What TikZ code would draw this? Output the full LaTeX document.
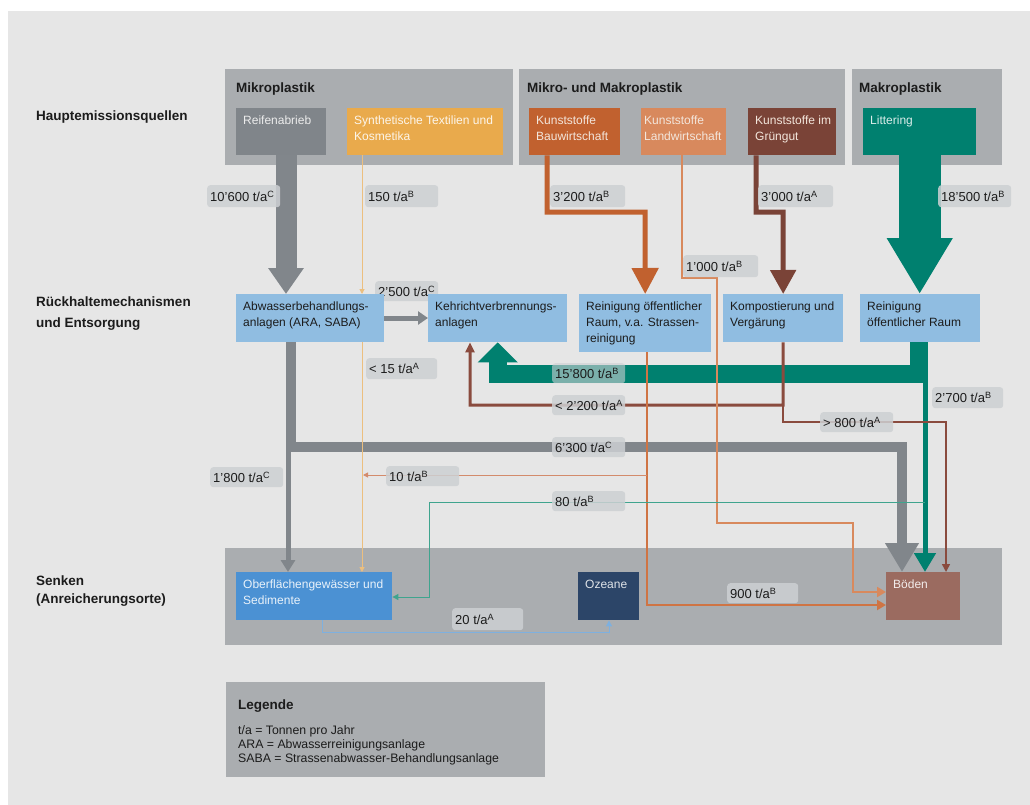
\documentclass[tikz,border=0pt]{standalone}
\usepackage{fontspec}
\setmainfont{Liberation Sans}
\usetikzlibrary{arrows.meta,calc}
\definecolor{bgc}{HTML}{E6E6E6}
\definecolor{bandc}{HTML}{AAADB0}
\definecolor{reifc}{HTML}{80858A}
\definecolor{grayarr}{HTML}{81868B}
\definecolor{sync}{HTML}{E9AA4C}
\definecolor{synl}{HTML}{ECBF7F}
\definecolor{bauc}{HTML}{C1612F}
\definecolor{landc}{HTML}{D8895D}
\definecolor{gruenc}{HTML}{7A4337}
\definecolor{tealc}{HTML}{00806F}
\definecolor{tealthin}{HTML}{3FA48E}
\definecolor{bluebox}{HTML}{90BDE1}
\definecolor{oberc}{HTML}{4B91D3}
\definecolor{ozeanc}{HTML}{2C4568}
\definecolor{bodenc}{HTML}{9B6B60}
\definecolor{pillc}{HTML}{CDD0D3}
\definecolor{txtc}{HTML}{1C1C1C}
\definecolor{orthin}{HTML}{D38B6C}
\definecolor{bluethin}{HTML}{7EB0DF}
\definecolor{kompc}{HTML}{8A4B3E}
\definecolor{reinl}{HTML}{CF7444}
\definecolor{lighttxt}{HTML}{F3E6DC}
\newcommand\bx[9]{%
 \node[boxst, fill=#6, minimum width={#4pt-#2pt}, minimum height={#5pt-#3pt}] (#1) at (#2,#3) {};
 \node[boxtxt, text=#7] (#1-t) at ([xshift=#8pt, yshift=-8pt]#1.north west) {#9};}
\newcommand\pill[7][0.85]{\node[pillst, fill opacity=#1, minimum height={#6pt}] (#2) at (#3,#4) {\makebox[\dimexpr #5pt-6pt\relax][l]{#7}};}
\begin{document}
\begin{tikzpicture}[x=1pt,y=-1pt,
  boxst/.style={anchor=north west, inner sep=0pt, draw=none},
  boxtxt/.style={anchor=north west, inner sep=0pt, align=left, font=\fontsize{12}{16}\selectfont},
  pillst/.style={fill=pillc, text opacity=1, rounded corners=3pt, anchor=north west, inner xsep=3pt, inner ysep=0pt, text=txtc, font=\fontsize{13}{15}\selectfont},
  sec/.style={inner sep=0pt, text=txtc},
  hdr/.style={inner sep=0pt, text=txtc, font=\bfseries\fontsize{13.5}{16}\selectfont}]
\useasboundingbox (0,0) rectangle (1030,805);
\fill[white] (0,0) rectangle (1030,805);
\fill[bgc] (8,11) rectangle (1030,805);
% bands
\node[boxst, fill=bandc, minimum width=288pt, minimum height=96pt] (hb1) at (225,69) {};
\node[boxst, fill=bandc, minimum width=326pt, minimum height=96pt] (hb2) at (519,69) {};
\node[boxst, fill=bandc, minimum width=150pt, minimum height=96pt] (hb3) at (852,69) {};
\node[boxst, fill=bandc, minimum width=777pt, minimum height=97pt] (sink) at (225,548) {};
\node[boxst, fill=bandc, minimum width=319pt, minimum height=95pt] (leg) at (226,682) {};
% header texts
\node[hdr, anchor=base west] (hb1-t) at (236,93) {Mikroplastik};
\node[hdr, anchor=base west] (hb2-t) at (527,93) {Mikro- und Makroplastik};
\node[hdr, anchor=base west] (hb3-t) at (859,93) {Makroplastik};
% section labels
\node[sec, anchor=base west, font=\bfseries\fontsize{13.5}{16}\selectfont] (sec1) at (36,121) {Hauptemissionsquellen};
\node[sec, anchor=north west, align=left, font=\bfseries\fontsize{13.5}{21}\selectfont] (sec2) at (36,297) {Rückhaltemechanismen\\und Entsorgung};
\node[sec, anchor=north west, align=left, font=\bfseries\fontsize{13.5}{18}\selectfont] (sec3) at (36,576) {Senken\\(Anreicherungsorte)};
% pill behind box
\pill{p2500}{375}{281}{63}{20}{2’500 t/a\textsuperscript{C}}
% source boxes
\bx{reif}{236}{108}{326}{155}{reifc}{white!85!gray}{7}{Reifenabrieb}
\bx{synth}{347}{108}{503}{155}{sync}{white!88!sync}{7}{Synthetische Textilien und\\Kosmetika}
\bx{bau}{529}{108}{620}{155}{bauc}{lighttxt}{7}{Kunststoffe\\Bauwirtschaft}
\bx{land}{641}{108}{726}{155}{landc}{lighttxt}{3}{Kunststoffe\\Landwirtschaft}
\bx{gruen}{748}{108}{836}{155}{gruenc}{lighttxt}{7}{Kunststoffe im\\Grüngut}
\bx{litter}{863}{108}{976}{155}{tealc}{white!85!tealc}{7}{Littering}
% middle boxes
\bx{abw}{236}{294}{384}{342}{bluebox}{txtc}{7}{Abwasserbehandlungs-\\anlagen (ARA, SABA)}
\bx{kva}{428}{294}{567}{342}{bluebox}{txtc}{7}{Kehrichtverbrennungs-\\anlagen}
\bx{rein1}{579}{294}{711}{352}{bluebox}{txtc}{7}{Reinigung öffentlicher\\Raum, v.a. Strassen-\\reinigung}
\bx{komp}{723}{294}{843}{342}{bluebox}{txtc}{7}{Kompostierung und\\Vergärung}
\bx{rein2}{860}{294}{980}{342}{bluebox}{txtc}{7}{Reinigung\\öffentlicher Raum}
% sinks
\bx{ober}{236}{572}{392}{620}{oberc}{white!88!oberc}{7}{Oberflächengewässer und\\Sedimente}
\bx{ozean}{578}{572}{639}{620}{ozeanc}{white!85!ozeanc}{7}{Ozeane}
\bx{boden}{886}{572}{960}{620}{bodenc}{white!88!bodenc}{7}{Böden}
% coordinates
\coordinate (gj) at (291,447);
\coordinate (gb) at (288,447);
\coordinate (tj) at (919,374);
\coordinate (tk) at (925,380);
\coordinate (bk) at (645,212);
\coordinate (gk) at (783,212);
\coordinate (kj) at (783,405);
\coordinate (kj2) at (783,422);
\coordinate (l1) at (717,278);
\coordinate (l2) at (853,523);
\coordinate (r10) at (647,475);
\coordinate (s10) at (363,475);
\coordinate (t80) at (925,502);
\coordinate (t80b) at (429,502);
\coordinate (o20) at (322,632);
% thick gray
\draw[draw=grayarr, line width=21pt, -{Triangle[width=34pt,length=26pt]}] ([xshift=50pt]reif.south west) -- ([xshift=50pt]abw.north west);
\draw[draw=grayarr, line width=5pt, -{Triangle[width=13pt,length=10pt]}] ([yshift=-24pt]abw.north east) -- ([yshift=-24pt]kva.north west);
\draw[draw=grayarr, line width=10pt, -{Triangle[width=32pt,length=29pt]}] ([xshift=55pt]abw.south west) -- (gj) -| ([xshift=16pt]boden.north west);
\draw[draw=grayarr, line width=5pt, -{Triangle[width=14pt,length=12pt]}] (gb) -- ([xshift=52pt]ober.north west);
% teal
\draw[draw=tealc, line width=42pt, -{Triangle[width=62pt,length=56pt]}] (litter.south) -- (litter.south |- rein2.north);
\draw[draw=tealc, line width=18pt, -{Triangle[width=39pt,length=20pt]}] (rein2.south -| tj) -- (tj) -| (kva.south);
\draw[draw=tealc, line width=5pt, -{Triangle[width=21pt,length=19pt]}] (tk) -- ([xshift=39pt]boden.north west);
% orange / brown
\draw[draw=bauc, line width=5pt, -{Triangle[width=26pt,length=26pt]}] ([xshift=18pt]bau.south west) |- (bk) -- (rein1.north);
\draw[draw=gruenc, line width=5pt, -{Triangle[width=25pt,length=24pt]}] ([xshift=8pt]gruen.south west) |- (gk) -- (komp.north);
\draw[draw=kompc, line width=3pt, -{Triangle[width=9pt,length=10pt]}] (komp.south) -- (kj) -| ([xshift=42pt]kva.south west);
\draw[draw=kompc, line width=1.5pt, -{Triangle[width=8pt,length=8pt]}] (kj) -- (kj2) -| ([xshift=60pt]boden.north west);
\draw[draw=landc, line width=2pt, -{Triangle[width=10pt,length=9pt]}] ([xshift=41pt]land.south west) |- (l1) |- (l2) |- ([yshift=-20pt]boden.north west);
\draw[draw=reinl, line width=2pt, -{Triangle[width=10pt,length=9pt]}] ([xshift=68pt]rein1.south west) |- ([yshift=-33pt]boden.north west);
\draw[draw=orthin, line width=1pt, -{Triangle[width=5pt,length=5pt]}] (r10) -- (s10);
% thin lines
\draw[draw=synl, line width=1pt, -{Triangle[width=5pt,length=5pt]}] ([xshift=15pt]synth.south west) -- ([xshift=126pt]abw.north west);
\draw[draw=synl, line width=1pt, -{Triangle[width=5pt,length=5pt]}] ([xshift=126pt]abw.south west) -- ([xshift=126pt]ober.north west);
\draw[draw=tealthin, line width=1pt, -{Triangle[width=6pt,length=6pt]}] (t80) -- (t80b) |- ([yshift=-25pt]ober.north east);
\draw[draw=bluethin, line width=1pt, -{Triangle[width=6pt,length=6pt]}] ([xshift=86pt]ober.south west) -- (o20) -| ([xshift=31pt]ozean.south west);
% pills
\pill{p10600}{207}{185}{73}{22}{10’600 t/a\textsuperscript{C}}
\pill{p150}{365}{185}{73}{22}{150 t/a\textsuperscript{B}}
\pill{p3200}{550}{185}{75}{22}{3’200 t/a\textsuperscript{B}}
\pill{p3000}{758}{185}{75}{22}{3’000 t/a\textsuperscript{A}}
\pill{p18500}{938}{185}{73}{22}{18’500 t/a\textsuperscript{B}}
\pill{p1000}{683}{255}{75}{22}{1’000 t/a\textsuperscript{B}}
\pill{p15}{366}{358}{71}{21}{< 15 t/a\textsuperscript{A}}
\pill[0.6]{p15800}{552}{363}{73}{20}{15’800 t/a\textsuperscript{B}}
\pill{p2200}{552}{395}{73}{20}{< 2’200 t/a\textsuperscript{A}}
\pill{p6300}{552}{437}{73}{20}{6’300 t/a\textsuperscript{C}}
\pill{p10}{386}{466}{73}{20}{10 t/a\textsuperscript{B}}
\pill{p80}{552}{491}{73}{20}{80 t/a\textsuperscript{B}}
\pill{p1800}{210}{467}{73}{20}{1’800 t/a\textsuperscript{C}}
\pill{p2700}{932}{387}{71}{21}{2’700 t/a\textsuperscript{B}}
\pill{p800}{820}{412}{73}{20}{> 800 t/a\textsuperscript{A}}
\pill{p900}{727}{583}{71}{20}{900 t/a\textsuperscript{B}}
\pill{p20}{452}{608}{71}{22}{20 t/a\textsuperscript{A}}
% legend
\node[sec, anchor=base west, font=\bfseries\fontsize{13.5}{16}\selectfont] (legt) at (238,709) {Legende};
\node[sec, anchor=north west, align=left, font=\fontsize{12.3}{14}\selectfont] (legx) at (238,725) {t/a = Tonnen pro Jahr\\ARA = Abwasserreinigungsanlage\\SABA = Strassenabwasser-Behandlungsanlage};
\end{tikzpicture}
\end{document}
